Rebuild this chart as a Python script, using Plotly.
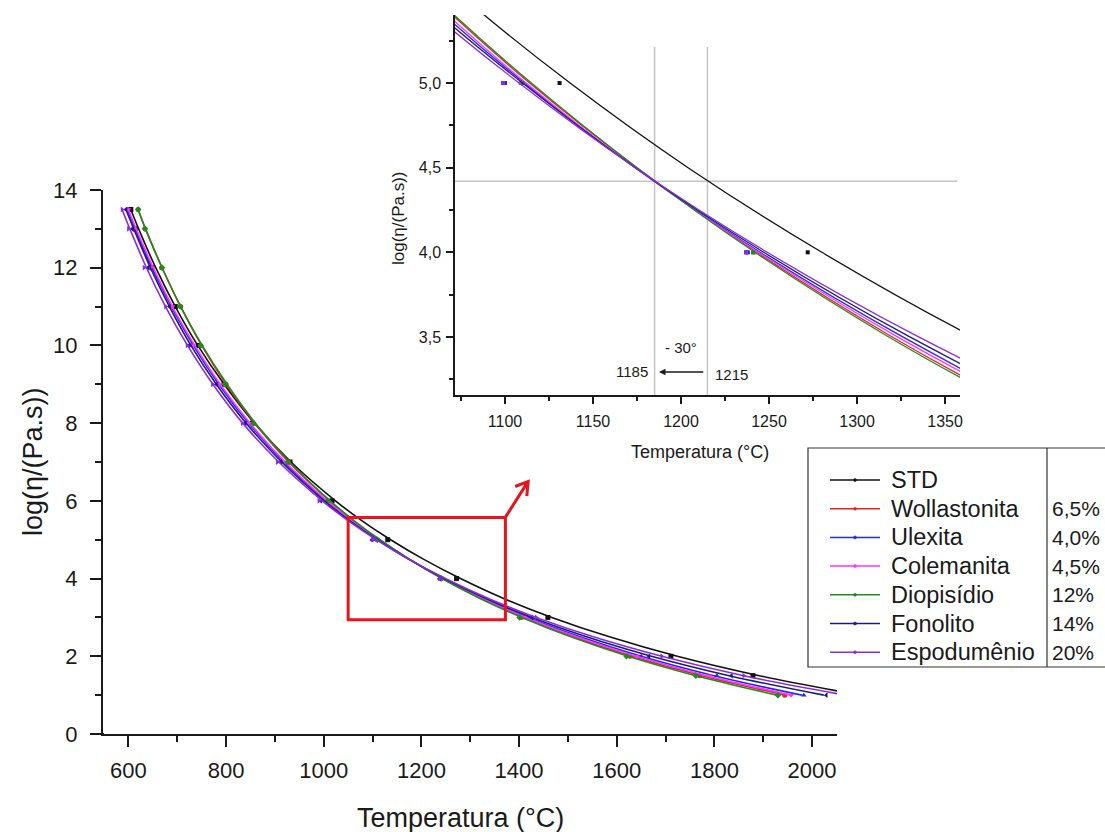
import plotly.graph_objects as go

# ---------------- data ----------------
NAMES = ["STD", "Wollastonita", "Ulexita", "Colemanita", "Diopisídio", "Fonolito", "Espodumênio"]
ADDITIONS = ["", "6,5%", "4,0%", "4,5%", "12%", "14%", "20%"]
COLORS = ["#111111", "#e8202a", "#2424ff", "#ff33ff", "#1e8c1e", "#1c1c78", "#8a2be2"]
SYMBOLS = ["square", "circle", "triangle-up", "triangle-down", "diamond", "triangle-left", "triangle-right"]

# fitted curves: temperature (°C) at each log(viscosity) level
LOG_FIT = [13.5, 13.0, 12.0, 11.0, 10.0, 9.0, 8.0, 7.0, 6.0, 5.5, 5.0, 4.5, 4.0, 3.5, 3.0, 2.5, 2.0, 1.5, 1.0]
T_FIT_STD = [605, 621, 656, 696, 742, 796, 858, 933, 1024, 1077, 1137, 1204, 1280, 1366, 1467, 1585, 1724, 1892, 2098]
T_FIT_WOL = [620, 635, 669, 707, 750, 800, 859, 928, 1012, 1060, 1114, 1175, 1243, 1320, 1409, 1511, 1631, 1774, 1945]
T_FIT_ULE = [598, 614, 648, 688, 733, 785, 846, 918, 1005, 1055, 1111, 1174, 1245, 1326, 1418, 1525, 1650, 1799, 1979]
T_FIT_COL = [600, 616, 651, 690, 736, 788, 849, 921, 1007, 1057, 1112, 1174, 1244, 1323, 1414, 1518, 1640, 1784, 1957]
T_FIT_DIO = [620, 635, 669, 707, 751, 802, 860, 930, 1013, 1061, 1115, 1175, 1242, 1318, 1406, 1506, 1623, 1762, 1928]
T_FIT_FON = [595, 611, 645, 684, 728, 780, 841, 914, 1001, 1052, 1110, 1174, 1247, 1330, 1426, 1538, 1671, 1830, 2024]
T_FIT_ESP = [587, 603, 637, 676, 721, 773, 834, 908, 997, 1049, 1108, 1174, 1249, 1335, 1435, 1552, 1692, 1860, 2068]

# measured points
LOG_PTS = [13.5, 13.0, 12.0, 11.0, 10.0, 9.0, 8.0, 7.0, 6.0, 5.0, 4.0, 3.0, 2.0, 1.5, 1.0]
T_PTS_STD = [605, 614, 648, 696, 743, 796, 854, 931, 1017, 1131, 1272, 1459, 1711, 1879, 2098]
T_PTS_WOL = [620, 634, 668, 707, 748, 800, 856, 928, 1008, 1109, 1241, 1405, 1627, 1770, 1944]
T_PTS_ULE = [598, 609, 643, 688, 729, 785, 843, 918, 998, 1100, 1238, 1417, 1650, 1805, 1983]
T_PTS_COL = [600, 612, 646, 690, 732, 788, 846, 921, 1000, 1109, 1242, 1412, 1640, 1790, 1957]
T_PTS_DIO = [620, 634, 669, 706, 748, 797, 856, 926, 1008, 1110, 1241, 1401, 1620, 1762, 1930]
T_PTS_FON = [595, 608, 640, 684, 724, 780, 839, 912, 994, 1099, 1237, 1426, 1666, 1835, 2029]
T_PTS_ESP = [587, 600, 632, 676, 720, 772, 833, 905, 990, 1099, 1237, 1435, 1692, 1860, 2068]

FITS = [T_FIT_STD, T_FIT_WOL, T_FIT_ULE, T_FIT_COL, T_FIT_DIO, T_FIT_FON, T_FIT_ESP]
PTS = [T_PTS_STD, T_PTS_WOL, T_PTS_ULE, T_PTS_COL, T_PTS_DIO, T_PTS_FON, T_PTS_ESP]

# inset reference lines
REF_LOG = 4.42
REF_T = [1185, 1215]

# ---------------- figure ----------------
W, H = 1105, 832
def px(x):
    return x / W
def py(y):
    return 1 - y / H

FONT = "Liberation Sans, Arial, sans-serif"
INK = "#1a1a1a"

fig = go.Figure()
for i, name in enumerate(NAMES):
    c = COLORS[i]
    fig.add_trace(go.Scatter(x=FITS[i], y=LOG_FIT, mode="lines", xaxis="x", yaxis="y",
                             line=dict(color=c, width=1.6, shape="spline", smoothing=1.0),
                             name=name, showlegend=False, hoverinfo="skip"))
    fig.add_trace(go.Scatter(x=PTS[i], y=LOG_PTS, mode="markers", xaxis="x", yaxis="y",
                             marker=dict(color=c, size=5, symbol=SYMBOLS[i]),
                             name=name, showlegend=False))
    fig.add_trace(go.Scatter(x=FITS[i], y=LOG_FIT, mode="lines", xaxis="x2", yaxis="y2",
                             line=dict(color=c, width=1.3, shape="spline", smoothing=1.0),
                             name=name, showlegend=False, hoverinfo="skip"))
    fig.add_trace(go.Scatter(x=PTS[i], y=LOG_PTS, mode="markers", xaxis="x2", yaxis="y2",
                             marker=dict(color=c, size=4, symbol="square"),
                             name=name, showlegend=False))

axis_common = dict(showgrid=False, zeroline=False, showline=True, linecolor=INK,
                   ticks="outside", tickcolor=INK, automargin=False)

fig.update_layout(
    width=W, height=H, margin=dict(l=0, r=0, t=0, b=0, pad=0, autoexpand=False),
    paper_bgcolor="white", plot_bgcolor="rgba(0,0,0,0)",
    showlegend=False, separators=", ",
    font=dict(family=FONT, color=INK),
    xaxis=dict(domain=[px(103), px(837)], range=[548, 2051], anchor="y",
               tick0=600, dtick=200, ticklen=11, tickwidth=2, linewidth=2,
               tickfont=dict(size=22), ticklabelstandoff=5,
               minor=dict(dtick=100, ticklen=6, tickwidth=2, ticks="outside", tickcolor=INK),
               **axis_common),
    yaxis=dict(domain=[py(734), py(190)], range=[0, 14], anchor="x",
               tick0=0, dtick=2, ticklen=11, tickwidth=2, linewidth=2,
               tickfont=dict(size=22), ticklabelstandoff=8,
               minor=dict(dtick=1, ticklen=6, tickwidth=2, ticks="outside", tickcolor=INK),
               **axis_common),
    xaxis2=dict(domain=[px(455), px(960)], range=[1071.6, 1358.5], anchor="y2",
                tick0=1100, dtick=50, ticklen=7, tickwidth=1.5, linewidth=1.5,
                tickfont=dict(size=16), ticklabelstandoff=4,
                minor=dict(dtick=25, ticklen=4, tickwidth=1.5, ticks="outside", tickcolor=INK),
                **axis_common),
    yaxis2=dict(domain=[py(395), py(15)], range=[3.157, 5.402], anchor="x2",
                tick0=3.5, dtick=0.5, tickformat=".1f", ticklen=7, tickwidth=1.5, linewidth=1.5,
                tickfont=dict(size=16), ticklabelstandoff=2,
                minor=dict(dtick=0.25, ticklen=4, tickwidth=1.5, ticks="outside", tickcolor=INK),
                **axis_common),
)

shapes = []
annotations = []

# short extension of the main x axis line to the left of the y axis
shapes.append(dict(type="line", xref="paper", yref="y", x0=px(93), x1=px(104), y0=0, y1=0,
                   line=dict(color=INK, width=2)))

# inset reference lines
shapes.append(dict(type="line", xref="x2", yref="y2", x0=1071.6, x1=1357, y0=REF_LOG, y1=REF_LOG,
                   line=dict(color="#c4c4c4", width=1.5), layer="below"))
for t in REF_T:
    shapes.append(dict(type="line", xref="x2", yref="y2", x0=t, x1=t, y0=3.157, y1=5.213,
                       line=dict(color="#c4c4c4", width=1.5), layer="below"))

# inset annotations
annotations.append(dict(xref="x2", yref="y2", x=1200, y=3.44, text="- 30°", showarrow=False,
                        font=dict(size=15), xanchor="center", yanchor="middle"))
annotations.append(dict(xref="x2", yref="y2", x=1182.5, y=3.293, text="1185", showarrow=False,
                        font=dict(size=15), xanchor="right", yanchor="middle"))
annotations.append(dict(xref="x2", yref="y2", x=1218.2, y=3.28, text="1215", showarrow=False,
                        font=dict(size=15), xanchor="left", yanchor="middle"))
annotations.append(dict(xref="x2", yref="y2", axref="x2", ayref="y2", x=1187.5, y=3.293,
                        ax=1213.5, ay=3.293, text="", showarrow=True, arrowhead=2,
                        arrowsize=1, arrowwidth=1.3, arrowcolor=INK))

# red zoom rectangle and arrow on main chart
RED = "#e8141c"
shapes.append(dict(type="rect", xref="x", yref="y", x0=1050, x1=1372, y0=2.94, y1=5.57,
                   line=dict(color=RED, width=3)))
shapes.append(dict(type="path", xref="x", yref="y",
                   path="M 1371.5 5.57 L 1418.6 6.50 M 1392 6.37 L 1418.6 6.50 L 1415.8 6.12",
                   line=dict(color=RED, width=3)))

# axis titles
annotations.append(dict(xref="paper", yref="paper", x=px(460), y=py(818), text="Temperatura (°C)",
                        showarrow=False, font=dict(size=27), xanchor="center", yanchor="middle"))
annotations.append(dict(xref="paper", yref="paper", x=px(33), y=py(462), text="log(η/(Pa.s))",
                        showarrow=False, font=dict(size=27), textangle=-90,
                        xanchor="center", yanchor="middle"))
annotations.append(dict(xref="paper", yref="paper", x=px(700), y=py(452), text="Temperatura (°C)",
                        showarrow=False, font=dict(size=18), xanchor="center", yanchor="middle"))
annotations.append(dict(xref="paper", yref="paper", x=px(398), y=py(218), text="log(η/(Pa.s))",
                        showarrow=False, font=dict(size=17), textangle=-90,
                        xanchor="center", yanchor="middle"))

# manual legend
shapes.append(dict(type="rect", xref="paper", yref="paper", x0=px(808), x1=px(1112),
                   y0=py(667), y1=py(448), line=dict(color="#333333", width=1.2),
                   fillcolor="white", layer="above"))
shapes.append(dict(type="line", xref="paper", yref="paper", x0=px(1047), x1=px(1047),
                   y0=py(667), y1=py(448), line=dict(color="#333333", width=1.2)))
row_y0, row_dy = 480, 28.7
for i, name in enumerate(NAMES):
    yy = row_y0 + i * row_dy
    shapes.append(dict(type="line", xref="paper", yref="paper", x0=px(830), x1=px(880),
                       y0=py(yy), y1=py(yy), line=dict(color=COLORS[i], width=1.5)))
    shapes.append(dict(type="circle", xref="paper", yref="paper", x0=px(853.5), x1=px(856.5),
                       y0=py(yy + 1.5), y1=py(yy - 1.5), line=dict(color=COLORS[i], width=0.5),
                       fillcolor=COLORS[i]))
    annotations.append(dict(xref="paper", yref="paper", x=px(889), y=py(yy), text=name,
                            showarrow=False, font=dict(size=23.5), xanchor="left", yanchor="middle"))
    if ADDITIONS[i]:
        annotations.append(dict(xref="paper", yref="paper", x=px(1050), y=py(yy), text=ADDITIONS[i],
                                showarrow=False, font=dict(size=21), xanchor="left", yanchor="middle"))

fig.update_layout(shapes=shapes, annotations=annotations)
fig.write_html("out.html")
